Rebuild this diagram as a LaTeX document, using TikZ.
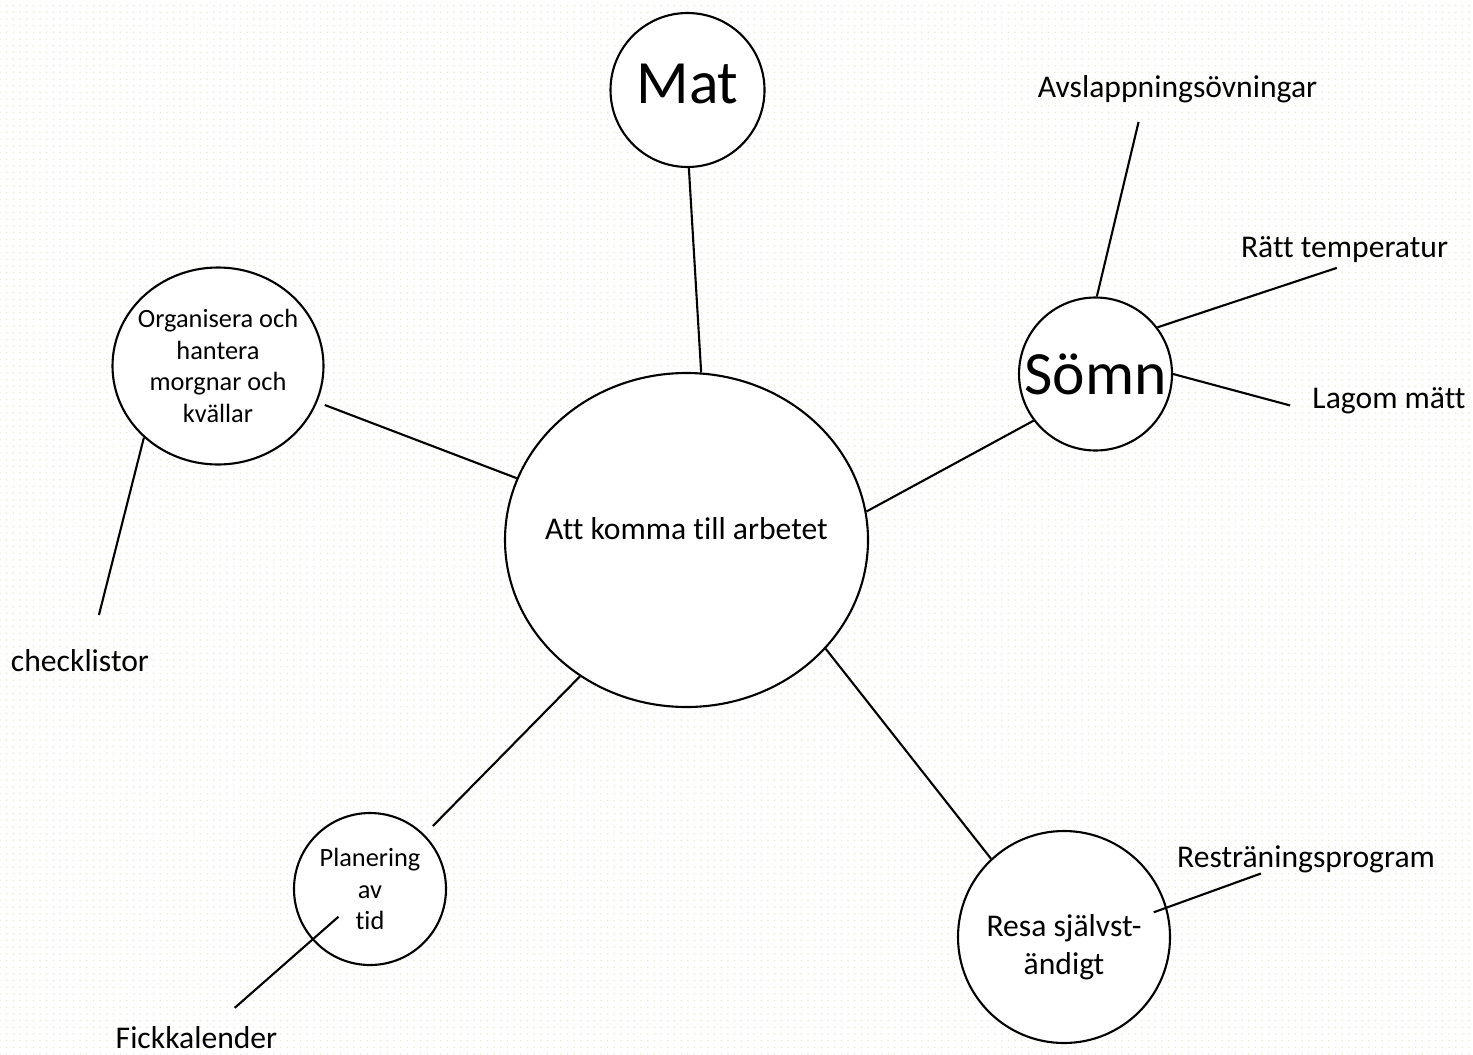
\documentclass[tikz,border=0pt]{standalone}
\usepackage{fontspec}
\setmainfont{Carlito}[Ligatures=NoCommon]
\usetikzlibrary{shapes.geometric,patterns.meta}

\definecolor{dotgrey}{RGB}{234,234,218}

\tikzdeclarepattern{
  name=paperdots,
  type=uncolored,
  bottom left={(-0.95pt,-0.95pt)},
  top right={(0.95pt,0.95pt)},
  tile size={(1.9pt,1.9pt)},
  code={\fill (0pt,0pt) circle (0.25pt);}
}

\newcommand{\hugetext}{\fontsize{17.5}{21}\selectfont}
\newcommand{\smalltext}{\fontsize{7.5}{9}\selectfont}
\newcommand{\midtext}{\fontsize{9}{10.8}\selectfont}

\begin{document}
\begin{tikzpicture}[
    line width=0.6pt,
    bubble/.style={circle, draw, fill=white, inner sep=0pt, minimum size=#1},
    oval/.style={ellipse, draw, fill=white, inner sep=0pt},
    leaf/.style={inner sep=0pt, font=\midtext, anchor=base}
]
    \useasboundingbox (0,0) rectangle (14.73,-10.54);
    % Papier
    \fill[pattern=paperdots, pattern color=dotgrey] (0,0) rectangle (14.73,-10.54);

    % Mitte
    \node[oval, minimum width=3.63cm, minimum height=3.34cm,
          label={[font=\midtext, yshift=0.11cm]center:Att komma till arbetet}] (hub) at (6.865,-5.40) {};

    % Themen
    \node[bubble=1.54cm, label={[font=\hugetext, yshift=0.06cm]center:Mat}] (mat) at (6.875,-0.90) {};
    \node[bubble=1.53cm, label={[font=\hugetext]center:Sömn}] (somn) at (10.955,-3.74) {};
    \node[oval, minimum width=2.11cm, minimum height=1.97cm,
          label={[font=\smalltext, align=center]center:Organisera och\\hantera\\morgnar och\\kvällar}] (org) at (2.18,-3.66) {};
    \node[bubble=1.52cm, label={[font=\smalltext, align=center]center:Planering\\av\\tid}] (plan) at (3.70,-8.89) {};
    \node[bubble=2.12cm, label={[font=\midtext, align=center, yshift=-0.1cm]center:Resa självst-\\ändigt}] (resa) at (10.64,-9.37) {};

    % Blätter
    \node[leaf] (avs) at (11.775,-0.98) {Avslappningsövningar};
    \node[leaf] (rtemp) at (13.445,-2.57) {Rätt temperatur};
    \node[leaf] (lagom) at (13.89,-4.08) {Lagom mätt};
    \node[leaf] (check) at (0.80,-6.71) {checklistor};
    \node[leaf] (fick) at (1.965,-10.48) {Fickkalender};
    \node[leaf] (resprog) at (13.06,-8.67) {Resträningsprogram};

    % Verbindungen
    \draw (mat.-89) -- (hub.85);
    \draw[shorten <=0.08cm] (org.-20) -- (hub.160);
    \draw (somn.217) -- (hub.9);
    \draw[shorten >=0.12cm] (hub.232) -- (plan.45);
    \draw (hub.-38) -- (resa.133);

    \draw[shorten >=0.18cm] (somn.89) -- (avs.203);
    \draw[shorten >=0.15cm] (somn.37) -- (rtemp.-65);
    \draw[shorten >=0.22cm] (somn.0) -- (lagom.188);
    \draw[shorten >=0.34cm] (org.224) -- (check.49);
    \draw[shorten <=0.42cm, shorten >=0.26cm] (plan.center) -- (fick.33);
    \draw[shorten <=-0.14cm] (resa.16) -- (resprog.198);
\end{tikzpicture}
\end{document}
